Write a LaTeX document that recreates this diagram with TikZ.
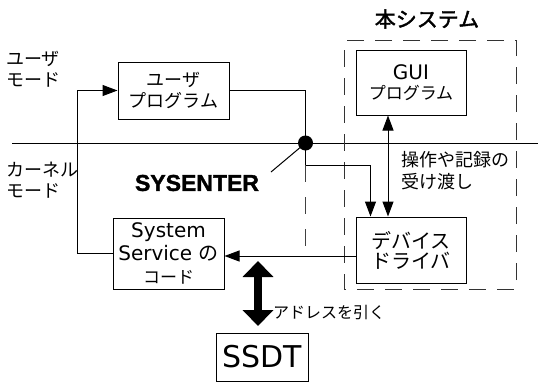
\documentclass[tikz,border=0pt]{standalone}
\usepackage{fontspec}
\usetikzlibrary{arrows.meta,calc}
\setmainfont{DejaVu Sans}
\newfontfamily\jp{Noto Sans CJK JP}
\newfontfamily\jpbold[FakeBold=2]{Noto Sans CJK JP}
\newfontfamily\sysfont[FakeBold=1.5]{Liberation Sans}

\tikzset{
  wire/.style={line width=1pt, draw=black},
  tip/.style={-{Triangle[width=11pt,length=15pt]}},
  box/.style={draw, line width=1pt, align=center, inner sep=0pt},
  label/.style={inner sep=0pt, align=left},
  jptext/.style={font={\jp\fontsize{18}{21}\selectfont}},
  frame/.style={line width=1pt, draw=black!80, dash pattern=on 17pt off 11pt},
  guide/.style={line width=1pt, draw=black!75, dash pattern=on 17pt off 15pt},
}

\begin{document}
\begin{tikzpicture}[x=1pt,y=-1pt]
\useasboundingbox (0,0) rectangle (538,381);

% kernel / user boundary
\coordinate (ml) at (12,143);
\coordinate (mr) at (538,143);
\draw[wire] (ml) -- (mr);

% the dashed frame of the system
\draw[frame] (344,50) -- (344,289) -- (516,289) -- (516,40) -- (344,40);
\node[label, font={\jpbold\fontsize{21}{24}\selectfont}] (title) at (427,19) {本システム};

% boxes
\node[box, jptext, minimum width=111pt, minimum height=57pt] (user) at (173.5,90.5) {ユーザ\\プログラム};
\node[box, minimum width=110pt, minimum height=65pt] (gui) at (411,82.5)
  {{\fontsize{20}{20}\selectfont GUI}\\[5pt]{\jp\fontsize{17}{20}\selectfont プログラム}};
\node[box, font={\jp\fontsize{20}{20}\selectfont}, minimum width=110pt, minimum height=66pt] (driver) at (411,250) {デバイス\\ドライバ};
\node[box, font={\fontsize{20}{23}\selectfont}, minimum width=111pt, minimum height=71pt] (syssvc) at (168.5,253.5)
  {System\\Service {\jp の}\\{\jp\fontsize{17}{23}\selectfont コード}};
\node[box, font={\fontsize{30}{30}\selectfont}, minimum width=92pt, minimum height=48pt] (ssdt) at (262,357) {SSDT};

% side labels
\node[label, jptext, anchor=west] (umode) at (6,69) {ユーザ\\モード};
\node[label, jptext, anchor=west] (kmode) at (6,180) {カーネル\\モード};
\node[label, font={\jp\fontsize{18}{22}\selectfont}, anchor=west] (ops) at (401,171) {操作や記録の\\受け渡し};
\node[label, font={\jp\fontsize{16}{20}\selectfont}, anchor=west] (addr) at (273,312) {アドレスを引く};
\node[label, font={\sysfont\bfseries\fontsize{23}{24}\selectfont}] (sysenter) at (197,183) {SYSENTER};

% SYSENTER junction
\node[circle, fill, inner sep=0pt, minimum size=15pt] (dot) at (305.5,143) {};
\coordinate (sysend) at (271,172);
\draw[wire] (sysend) -- (dot.center);

% user program into the kernel, down to the driver
\coordinate (bend) at (305.5,165);
\coordinate (dropin) at ([xshift=15pt]driver.north west);
\draw[wire] (user.east) -| (dot.center);
\draw[wire, tip] (dot.center) -- (bend) -| (dropin);

% GUI <-> driver
\draw[wire, {Triangle[width=11pt,length=15pt]}-{Triangle[width=11pt,length=15pt]}]
  ([xshift=-23pt]gui.south) -- ([xshift=-23pt]driver.north);

% driver back to the system service code
\coordinate (lvl) at (0,256);
\draw[wire, tip] (driver.west |- lvl) -- (syssvc.east |- lvl);
\draw[guide] (bend) -- (bend |- lvl);

% system service code returning to the user program
\coordinate (loopx) at (77,0);
\draw[wire, tip] (syssvc.west) -- (loopx |- syssvc.west) -- (loopx |- user.west) -- (user.west);

% SSDT lookup
\coordinate (bat) at (258,261);
\coordinate (bab) at (258,326);
\draw[line width=8pt, {Triangle[width=30pt,length=16pt]}-{Triangle[width=30pt,length=16pt]}] (bat) -- (bab);
\end{tikzpicture}
\end{document}
